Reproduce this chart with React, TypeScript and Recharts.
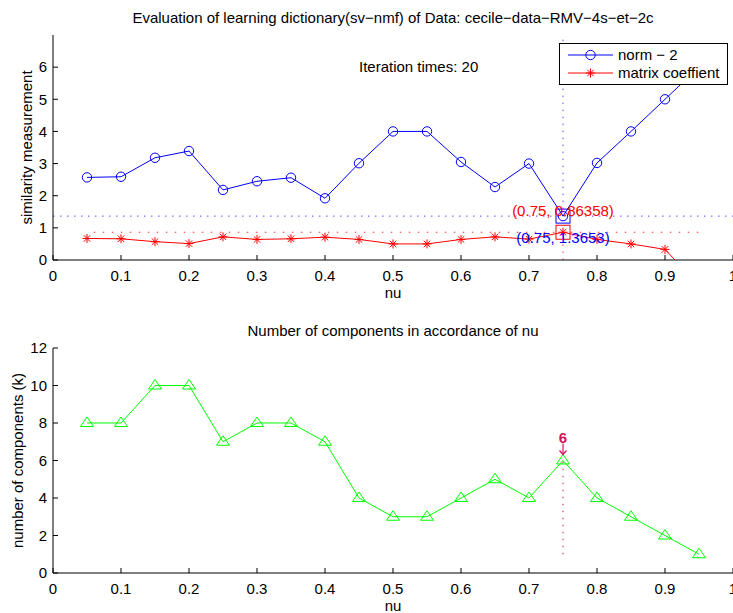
import React from 'react';
import { LineChart, Line, XAxis, YAxis, ReferenceLine, ReferenceDot, Legend } from 'recharts';

// nu values on the x axis
const nuValues = [0.05, 0.1, 0.15, 0.2, 0.25, 0.3, 0.35, 0.4, 0.45, 0.5, 0.55, 0.6, 0.65, 0.7, 0.75, 0.8, 0.85, 0.9, 0.95];
// top plot series
const norm2 = [2.57, 2.59, 3.18, 3.39, 2.18, 2.45, 2.56, 1.92, 3.01, 4.0, 4.0, 3.05, 2.27, 3.0, 1.3653, 3.02, 4.0, 5.0, 6.0];
const matrixCoef = [0.67, 0.66, 0.57, 0.51, 0.72, 0.64, 0.66, 0.71, 0.64, 0.5, 0.5, 0.64, 0.72, 0.65, 0.86358, 0.64, 0.5, 0.33, -0.8];
// bottom plot series
const components = [8, 8, 10, 10, 7, 8, 8, 7, 4, 3, 3, 4, 5, 4, 6, 4, 3, 2, 1];

const nuTicks = [0, 0.1, 0.2, 0.3, 0.4, 0.5, 0.6, 0.7, 0.8, 0.9, 1];
const simTicks = [0, 1, 2, 3, 4, 5, 6];
const compTicks = [0, 2, 4, 6, 8, 10, 12];

const bestNu = 0.75;
const bestNorm = 1.3653;
const bestCoef = 0.86358;
const bestK = 6;

const simData = nuValues.map((nu, i) => ({ nu, norm2: norm2[i], coef: matrixCoef[i] }));
const compData = nuValues.map((nu, i) => ({ nu, k: components[i] }));

const FONT = '"Liberation Sans", Arial, Helvetica, sans-serif';
const BLUE = '#0000ff';
const RED = '#ff0000';
const GREEN = '#00ff00';
const MAGENTA = '#d0145a';
const DOT_BLUE = '#5050ff';
const DOT_RED = '#ff3030';
const FS = 15;

const tickStyle = { fill: '#000', fontSize: FS };
const blank = () => '';

const Circle = (p: any) => (
  <circle key={`c-${p.index}`} cx={p.cx} cy={p.cy} r={4.7} fill="none" stroke={BLUE} strokeWidth={1} />
);

const Asterisk = (p: any) => {
  const { cx, cy } = p;
  const r = 4.5;
  const d = r * 0.72;
  return (
    <g key={`a-${p.index}`} stroke={RED} strokeWidth={1}>
      <line x1={cx - r} y1={cy} x2={cx + r} y2={cy} />
      <line x1={cx} y1={cy - r} x2={cx} y2={cy + r} />
      <line x1={cx - d} y1={cy - d} x2={cx + d} y2={cy + d} />
      <line x1={cx - d} y1={cy + d} x2={cx + d} y2={cy - d} />
    </g>
  );
};

const Triangle = (p: any) => {
  const { cx, cy } = p;
  return (
    <path
      key={`t-${p.index}`}
      d={`M${cx},${cy - 6} L${cx + 6.5},${cy + 3.5} L${cx - 6.5},${cy + 3.5} Z`}
      fill="none"
      stroke={GREEN}
      strokeWidth={1}
    />
  );
};

const boxShape = (color: string) => (p: any) => (
  <rect x={p.cx - 7} y={p.cy - 7} width={14} height={14} fill="none" stroke={color} strokeWidth={1} />
);

const LegendBox = () => (
  <div
    style={{
      width: 169,
      height: 42,
      boxSizing: 'border-box',
      border: '1px solid #000',
      background: '#fff',
      fontFamily: FONT,
      fontSize: FS,
      color: '#000',
      paddingTop: 2,
    }}
  >
    {[
      { name: 'norm \u2212 2', color: BLUE, marker: 'o' },
      { name: 'matrix coeffient', color: RED, marker: '*' },
    ].map((item) => (
      <div key={item.name} style={{ display: 'flex', alignItems: 'center', height: 18 }}>
        <svg width={57} height={18}>
          <line x1={8} y1={9} x2={53} y2={9} stroke={item.color} strokeWidth={1} />
          {item.marker === 'o' ? Circle({ cx: 30.5, cy: 9, index: 'lg' }) : Asterisk({ cx: 30.5, cy: 9, index: 'lg' })}
        </svg>
        <span style={{ marginLeft: 1, lineHeight: '18px' }}>{item.name}</span>
      </div>
    ))}
  </div>
);

const KMarker = (p: any) => {
  const { cx, cy } = p;
  return (
    <g>
      <text x={cx} y={cy - 18} textAnchor="middle" fill={MAGENTA} fontSize={15} fontWeight="bold" fontFamily={FONT}>
        {bestK}
      </text>
      <line x1={cx} y1={cy - 17} x2={cx} y2={cy - 6} stroke={MAGENTA} strokeWidth={1.2} />
      <path d={`M${cx - 3.5},${cy - 10} L${cx},${cy - 6} L${cx + 3.5},${cy - 10}`} fill="none" stroke={MAGENTA} strokeWidth={1.2} />
    </g>
  );
};

const titleStyle: React.CSSProperties = {
  position: 'absolute',
  left: 53,
  width: 680,
  textAlign: 'center',
  fontSize: FS,
  lineHeight: '18px',
  color: '#000',
  zIndex: 2,
};

export default function App() {
  return (
    <div
      style={{
        position: 'absolute',
        left: 0,
        top: 0,
        width: 733,
        height: 613,
        overflow: 'hidden',
        background: '#fff',
        fontFamily: FONT,
      }}
    >
      <div style={{ ...titleStyle, top: 9 }}>
        Evaluation of learning dictionary(sv−nmf) of Data: cecile−data−RMV−4s−et−2c
      </div>
      <div style={{ ...titleStyle, top: 322 }}>Number of components in accordance of nu</div>

      <LineChart width={733} height={300} data={simData} margin={{ top: 35, right: 0, bottom: 0, left: 0 }}>
        <XAxis
          xAxisId="b"
          dataKey="nu"
          type="number"
          domain={[0, 1]}
          ticks={nuTicks}
          interval={0}
          height={40}
          tickSize={-5}
          tickMargin={15}
          stroke="#000"
          tick={tickStyle}
          allowDataOverflow
          label={{ value: 'nu', position: 'insideBottom', offset: 2, fill: '#000', fontSize: FS }}
        />
        <XAxis
          xAxisId="t"
          orientation="top"
          dataKey="nu"
          type="number"
          domain={[0, 1]}
          ticks={nuTicks}
          interval={0}
          height={0}
          tickSize={-5}
          tickFormatter={blank}
          stroke="#000"
        />
        <YAxis
          yAxisId="l"
          type="number"
          domain={[0, 7]}
          ticks={simTicks}
          interval={0}
          width={53}
          tickSize={-5}
          tickMargin={11}
          stroke="#000"
          tick={tickStyle}
          allowDataOverflow
          label={{ value: 'similarity measurement', angle: -90, position: 'center', fill: '#000', fontSize: FS }}
        />
        <YAxis
          yAxisId="r"
          orientation="right"
          type="number"
          domain={[0, 7]}
          ticks={simTicks}
          interval={0}
          width={0}
          tickSize={-5}
          tickFormatter={blank}
          stroke="#000"
          allowDataOverflow
        />
        <ReferenceLine xAxisId="b" yAxisId="l" y={bestNorm} stroke={DOT_BLUE} strokeDasharray="1.5 5.5" />
        <ReferenceLine
          xAxisId="b"
          yAxisId="l"
          segment={[{ x: 0.06, y: bestCoef }, { x: 0.955, y: bestCoef }]}
          stroke={DOT_RED}
          strokeDasharray="1.5 7.5"
        />
        <ReferenceLine
          xAxisId="b"
          yAxisId="l"
          segment={[{ x: bestNu, y: bestNorm }, { x: bestNu, y: 7 }]}
          stroke={DOT_BLUE}
          strokeDasharray="1.5 5.5"
        />
        <ReferenceLine
          xAxisId="b"
          yAxisId="l"
          segment={[{ x: bestNu, y: 0 }, { x: bestNu, y: bestCoef }]}
          stroke={DOT_RED}
          strokeDasharray="1.5 5.5"
        />
        <Line
          xAxisId="b"
          yAxisId="l"
          dataKey="norm2"
          stroke={BLUE}
          strokeWidth={1}
          dot={Circle}
          activeDot={false}
          isAnimationActive={false}
        />
        <Line
          xAxisId="b"
          yAxisId="l"
          dataKey="coef"
          stroke={RED}
          strokeWidth={1}
          dot={Asterisk}
          activeDot={false}
          isAnimationActive={false}
        />
        <ReferenceDot xAxisId="b" yAxisId="l" x={bestNu} y={bestNorm} shape={boxShape(BLUE)} />
        <ReferenceDot xAxisId="b" yAxisId="l" x={bestNu} y={bestCoef} shape={boxShape(RED)} />
        <ReferenceDot
          xAxisId="b"
          yAxisId="l"
          x={bestNu}
          y={bestNorm}
          r={0}
          stroke="none"
          label={{ value: `(${bestNu}, ${bestCoef})`, position: 'top', offset: 0, fill: RED, fontSize: FS }}
        />
        <ReferenceDot
          xAxisId="b"
          yAxisId="l"
          x={bestNu}
          y={bestCoef}
          r={0}
          stroke="none"
          label={{ value: `(${bestNu}, ${bestNorm})`, position: 'bottom', offset: 0, fill: BLUE, fontSize: FS }}
        />
        <ReferenceDot
          xAxisId="b"
          yAxisId="l"
          x={0.45}
          y={6}
          r={0}
          stroke="none"
          label={{ value: 'Iteration times: 20', position: 'right', offset: 0, fill: '#000', fontSize: FS }}
        />
        <Legend
          layout="vertical"
          align="center"
          verticalAlign="middle"
          content={LegendBox}
          wrapperStyle={{ left: 559, top: 43, width: 169, height: 42 }}
        />
      </LineChart>

      <LineChart width={733} height={313} data={compData} margin={{ top: 48, right: 0, bottom: 0, left: -17 }}>
        <XAxis
          xAxisId="b"
          dataKey="nu"
          type="number"
          domain={[0, 1]}
          ticks={nuTicks}
          interval={0}
          height={40}
          tickSize={-5}
          tickMargin={15}
          stroke="#000"
          tick={tickStyle}
          label={{ value: 'nu', position: 'insideBottom', offset: 2, fill: '#000', fontSize: FS }}
        />
        <XAxis
          xAxisId="t"
          orientation="top"
          dataKey="nu"
          type="number"
          domain={[0, 1]}
          ticks={nuTicks}
          interval={0}
          height={0}
          tickSize={-5}
          tickFormatter={blank}
          stroke="#000"
        />
        <YAxis
          yAxisId="l"
          type="number"
          domain={[0, 12]}
          ticks={compTicks}
          interval={0}
          width={70}
          tickSize={-5}
          tickMargin={11}
          stroke="#000"
          tick={tickStyle}
          label={{ value: 'number of components (k)', angle: -90, position: 'center', fill: '#000', fontSize: FS }}
        />
        <YAxis
          yAxisId="r"
          orientation="right"
          type="number"
          domain={[0, 12]}
          ticks={compTicks}
          interval={0}
          width={0}
          tickSize={-5}
          tickFormatter={blank}
          stroke="#000"
        />
        <ReferenceLine
          xAxisId="b"
          yAxisId="l"
          segment={[{ x: bestNu, y: 1 }, { x: bestNu, y: bestK }]}
          stroke={MAGENTA}
          strokeDasharray="1.5 5.5"
        />
        <Line
          xAxisId="b"
          yAxisId="l"
          dataKey="k"
          stroke={GREEN}
          strokeWidth={1}
          dot={Triangle}
          activeDot={false}
          isAnimationActive={false}
        />
        <ReferenceDot xAxisId="b" yAxisId="l" x={bestNu} y={bestK} shape={KMarker} />
      </LineChart>
    </div>
  );
}
